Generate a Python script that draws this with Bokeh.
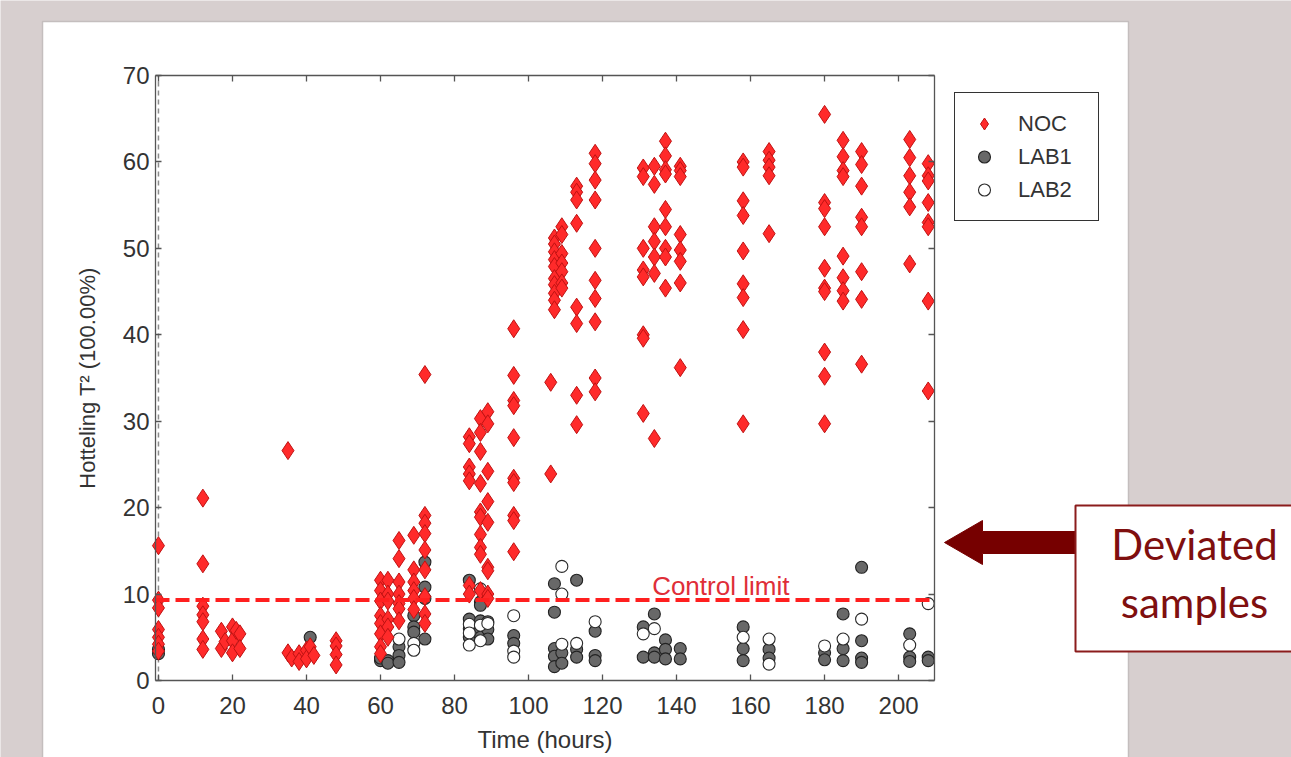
from bokeh.plotting import figure
from bokeh.models import (Range1d, FixedTicker, LinearAxis, Label, Legend, LegendItem,
                          CustomJSTickFormatter)
from bokeh.embed import file_html
from bokeh.resources import INLINE

# ---------------- data ----------------
x_ticks = [0, 20, 40, 60, 80, 100, 120, 140, 160, 180, 200]
y_ticks = [0, 10, 20, 30, 40, 50, 60, 70]
x_limits = (-0.8, 209.7)
y_limits = (0, 70)
control_limit = 9.3

noc_times = [0, 12, 17, 18, 20, 21, 22, 35, 36, 38, 40, 41, 42, 48, 60, 62, 65, 69, 72,
             84, 87, 89, 96, 106, 107, 109, 113, 118, 131, 134, 137, 141, 158, 165,
             180, 185, 190, 203, 208]
noc_values = [
    [15.6, 9.3, 8.4, 5.9, 5.0, 4.2, 3.4],
    [21.1, 13.5, 8.6, 7.6, 6.8, 4.8, 3.6],
    [5.7, 3.7],
    [4.5],
    [6.2, 4.6, 3.2],
    [5.8],
    [5.4, 3.7],
    [26.6, 3.2],
    [2.6],
    [3.1, 2.2],
    [3.5, 2.5],
    [3.9],
    [2.9],
    [4.6, 4.0, 3.0, 1.8],
    [11.6, 10.4, 9.2, 7.5, 6.6, 5.4, 3.9, 3.1],
    [11.6, 10.0, 9.2, 7.1, 6.2, 5.0],
    [16.2, 14.1, 11.4, 10.0, 8.9, 8.3, 6.9],
    [16.8, 12.8, 11.4, 10.4, 9.5, 8.2],
    [35.4, 19.1, 18.2, 17.0, 15.1, 12.8, 9.7, 7.7, 6.6],
    [28.2, 27.4, 24.7, 23.9, 23.1, 11.0, 10.0],
    [30.3, 28.7, 26.5, 22.8, 19.5, 18.9, 16.9, 15.4, 14.6, 10.4],
    [31.1, 29.7, 24.2, 20.7, 18.3, 13.1, 12.7, 10.0, 9.5],
    [40.7, 35.3, 32.4, 31.8, 28.1, 23.4, 22.9, 19.1, 18.5, 14.9],
    [34.5, 23.9],
    [51.2, 50.5, 49.6, 48.7, 47.9, 46.5, 45.8, 44.8, 44.0, 42.9],
    [52.5, 51.6, 49.4, 48.3, 47.3, 46.0, 45.4],
    [57.2, 56.5, 55.6, 52.9, 43.2, 41.3, 33.0, 29.6],
    [61.0, 59.8, 57.9, 55.6, 50.0, 46.3, 44.2, 41.5, 35.0, 33.4],
    [59.3, 58.3, 50.0, 47.5, 46.7, 40.0, 39.6, 30.9],
    [59.5, 57.4, 52.5, 50.8, 49.0, 47.1, 28.0],
    [62.4, 60.7, 59.1, 58.6, 54.5, 52.5, 50.0, 49.0, 45.4],
    [59.5, 59.0, 58.3, 51.6, 49.8, 48.5, 46.0, 36.2],
    [60.0, 59.4, 55.5, 53.8, 49.7, 45.9, 44.3, 40.6, 29.7],
    [61.2, 60.2, 59.4, 58.4, 51.7],
    [65.5, 55.3, 54.6, 52.5, 47.7, 45.4, 45.0, 38.0, 35.2, 29.7],
    [62.5, 60.6, 59.0, 58.3, 49.1, 46.6, 45.1, 43.9],
    [61.2, 59.7, 57.2, 53.6, 52.5, 47.3, 44.1, 36.6],
    [62.6, 60.5, 58.4, 56.5, 54.8, 48.2],
    [59.8, 58.4, 57.8, 55.3, 53.0, 52.5, 43.9, 33.5],
]

lab1_times = [0, 41, 60, 62, 65, 69, 72, 84, 87, 89, 96, 107, 109, 113, 118, 131, 134,
              137, 141, 158, 165, 180, 185, 190, 203, 208]
lab1_values = [
    [3.1, 3.6],
    [5.0],
    [2.3, 2.6],
    [2.3, 2.0],
    [3.9, 2.9, 2.1],
    [7.5, 6.2, 5.6],
    [13.7, 10.8, 9.5, 4.8],
    [11.6, 7.1, 6.0, 5.0],
    [9.1, 8.7, 6.9, 6.0, 5.0],
    [6.8, 5.9, 4.8],
    [5.2, 4.3],
    [11.2, 7.9, 3.7, 2.8, 1.6],
    [3.2, 2.0],
    [11.6, 3.6, 2.7],
    [5.7, 2.9, 2.3],
    [6.2, 2.7],
    [7.7, 3.2, 2.7],
    [4.7, 3.6, 2.5],
    [3.7, 2.5],
    [6.2, 3.7, 2.3],
    [3.6, 2.6],
    [3.2, 2.4],
    [7.7, 3.7, 2.3],
    [13.1, 4.6, 2.6, 2.1],
    [5.4, 2.7, 2.2],
    [2.7, 2.3],
]

lab2_times = [65, 69, 84, 87, 89, 96, 109, 113, 118, 131, 134, 158, 165, 180, 185, 190, 203, 208]
lab2_values = [
    [4.8],
    [4.3, 3.5],
    [6.5, 5.5, 4.1],
    [10.6, 6.4, 4.6],
    [6.6],
    [7.5, 3.4, 2.7],
    [13.2, 10.0, 4.2],
    [4.3],
    [6.8],
    [5.4],
    [6.0],
    [5.0],
    [4.8, 1.9],
    [4.0],
    [4.8],
    [7.1],
    [4.1],
    [8.9],
]

legend_labels = ["NOC", "LAB1", "LAB2"]
callout_lines = ["Deviated", "samples"]


def flatten(times, values):
    xs, ys = [], []
    for t, vals in zip(times, values):
        for v in vals:
            xs.append(t)
            ys.append(v)
    return xs, ys


noc_x, noc_y = flatten(noc_times, noc_values)
lab1_x, lab1_y = flatten(lab1_times, lab1_values)
lab2_x, lab2_y = flatten(lab2_times, lab2_values)

# ---------------- layout (page pixels) ----------------
W, H = 1291, 757
AL, AR, AT, AB = 155, 934, 75, 680      # axes box in page pixels

kx = (AR - AL) / (x_limits[1] - x_limits[0])
ky = (AB - AT) / (y_limits[1] - y_limits[0])
x_start = x_limits[0] - AL / kx
x_end = x_limits[1] + (W - AR) / kx
y_end = y_limits[1] + AT / ky
y_start = y_limits[0] - (H - AB) / ky


def dx(px):   # page pixel -> x coordinate (decorations only)
    return x_start + px / kx


def dy(py):   # page pixel -> y coordinate (decorations only)
    return y_end - py / ky


FONT = "Liberation Sans"
TXT = "#333333"
AXC = "#555555"
BG = "#d7cfcf"

p = figure(width=W, height=H, output_backend="svg", toolbar_location=None,
           x_range=Range1d(x_start, x_end), y_range=Range1d(y_start, y_end),
           min_border=0, min_border_left=0, min_border_right=0,
           min_border_top=0, min_border_bottom=0,
           x_axis_label="Time (hours)", y_axis_label="Hotteling T\u00b2 (100.00%)")
p.title.visible = False
p.background_fill_color = BG
p.border_fill_color = BG
p.outline_line_color = None
p.grid.visible = False

# white slide panel
p.quad(left=[dx(42)], right=[dx(1128)], top=[dy(21)], bottom=[dy(H + 10)],
       fill_color="white", line_color="#c4bebe", line_width=1.5)


def style_axis(ax, ticks, loc, bounds, labels=True):
    ax.ticker = FixedTicker(ticks=ticks)
    ax.fixed_location = loc
    ax.bounds = bounds
    ax.major_tick_in = 6
    ax.major_tick_out = 0
    ax.minor_tick_line_color = None
    ax.axis_line_color = AXC
    ax.axis_line_width = 1.3
    ax.major_tick_line_color = AXC
    ax.major_tick_line_width = 1.3
    ax.major_label_text_font = FONT
    ax.major_label_text_font_size = "24px"
    ax.major_label_text_color = TXT
    ax.axis_label_text_font = FONT
    ax.axis_label_text_font_size = "24px"
    ax.axis_label_text_font_style = "normal"
    ax.axis_label_text_color = TXT
    if not labels:
        ax.formatter = CustomJSTickFormatter(code="return ''")


style_axis(p.xaxis[0], x_ticks, y_limits[0], x_limits)
style_axis(p.yaxis[0], y_ticks, x_limits[0], y_limits)
p.xaxis[0].major_label_standoff = 16
p.xaxis[0].axis_label_standoff = 9
p.yaxis[0].major_label_standoff = 6
p.yaxis[0].axis_label_standoff = 20
p.yaxis[0].axis_label_text_font_size = "22px"

top_ax = LinearAxis()
style_axis(top_ax, x_ticks, y_limits[1], x_limits, labels=False)
p.add_layout(top_ax, "above")
right_ax = LinearAxis()
style_axis(right_ax, y_ticks, x_limits[1], y_limits, labels=False)
p.add_layout(right_ax, "right")

# vertical dashed reference line at t = 0
p.segment(x0=[0], y0=[y_limits[0]], x1=[0], y1=[y_limits[1]], line_color="#8c8c8c",
          line_dash="5 4", line_width=1.5)

# data
NOC_STYLE = dict(marker="diamond", fill_color="#ff2a2a", line_color="#bf1212", line_width=1.0)
LAB1_STYLE = dict(marker="circle", fill_color="#686868", line_color="#222222", line_width=1.1)
LAB2_STYLE = dict(marker="circle", fill_color="white", line_color="#2a2a2a", line_width=1.1)
r_lab1 = p.scatter(lab1_x, lab1_y, size=12, **LAB1_STYLE)
r_lab2 = p.scatter(lab2_x, lab2_y, size=12, **LAB2_STYLE)
r_noc = p.scatter(noc_x, noc_y, size=18, **NOC_STYLE)

# control limit
p.segment(x0=[x_limits[0]], y0=[control_limit], x1=[x_limits[1]], y1=[control_limit],
          line_color="#ff1f1f", line_dash="14 6", line_width=4)
p.add_layout(Label(x=133.4, y=control_limit, y_offset=14, text="Control limit",
                   text_font=FONT, text_font_size="26px", text_color="#df2e38",
                   text_baseline="alphabetic", text_align="left"))

# legend
legend = Legend(items=[LegendItem(label=legend_labels[0], renderers=[r_noc]),
                       LegendItem(label=legend_labels[1], renderers=[r_lab1]),
                       LegendItem(label=legend_labels[2], renderers=[r_lab2])],
                location=(954, H - 221))
legend.glyph_width = 30
legend.glyph_height = 33
legend.label_height = 33
legend.label_width = 66
legend.spacing = 0
legend.padding = 14
legend.margin = 0
legend.label_standoff = 19
legend.label_text_font = FONT
legend.label_text_font_size = "22px"
legend.label_text_color = TXT
legend.border_line_color = "#333333"
legend.border_line_alpha = 1.0
legend.border_line_width = 1.3
legend.background_fill_color = "white"
legend.background_fill_alpha = 1.0
p.add_layout(legend)

# arrow and callout box
arrow_px = [944, 982, 982, 1075, 1075, 982, 982]
arrow_py = [542, 520, 531, 531, 553, 553, 564]
p.patch([dx(v) for v in arrow_px], [dy(v) for v in arrow_py],
        fill_color="#760000", line_color="#760000", line_width=1)
p.quad(left=[dx(1075)], right=[dx(1310)], top=[dy(505)], bottom=[dy(651)],
       fill_color="white", line_color="#8b1c1c", line_width=2)
for txt, base in zip(callout_lines, (543, 601)):
    p.add_layout(Label(x=1194, y=H - base, x_units="screen", y_units="screen",
                       text=txt, text_font="Lato", text_font_size="42px",
                       text_color="#7f0f0f", text_align="center",
                       text_baseline="alphabetic"))

open("out.html", "w").write(file_html(p, INLINE))
